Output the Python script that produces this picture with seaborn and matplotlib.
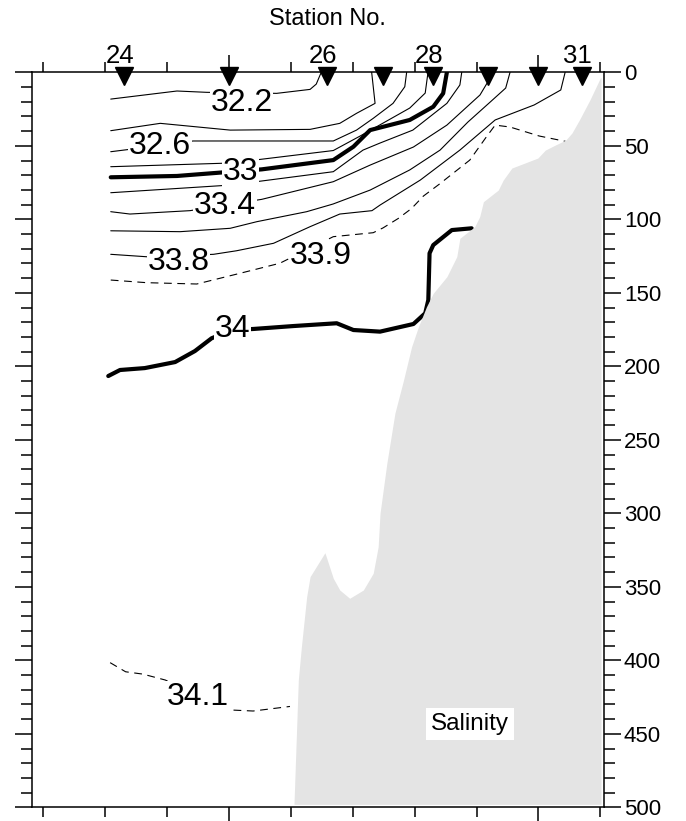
import numpy as np
import matplotlib
matplotlib.use('Agg')
import matplotlib.pyplot as plt
from matplotlib.transforms import ScaledTranslation
import seaborn as sns

sns.set_theme(style="ticks")
plt.rcParams['font.family'] = ['Liberation Sans', 'DejaVu Sans']
plt.rcParams['text.color'] = 'black'
plt.rcParams['xtick.labelcolor'] = 'black'
plt.rcParams['ytick.labelcolor'] = 'black'

# section geometry: distance (km) along the line, depth (m)
dist_lim = (18.13, 110.53)
depth_lim = (500, 0)

station_no = [24, 25, 26, 27, 28, 29, 30, 31]
station_x = [33.0, 50.0, 65.9, 74.9, 83.0, 91.9, 100.0, 107.0]
labelled = [24, 26, 28, 31]

# bottom topography
bottom_x = [110.0, 108.3, 106.6, 105.4, 104.4, 102.7, 101.1, 99.9, 97.8, 95.7, 94.3, 93.5,
            91.1, 90.5, 89.7, 87.3, 86.8, 85.2, 83.0, 81.9, 80.6, 79.5, 78.2, 76.8, 75.5,
            74.4, 74.1, 73.3, 71.7, 69.5, 67.9, 66.85, 65.5, 63.1, 62.55, 61.7, 61.2, 60.5]
bottom_d = [3.7, 18.8, 32.4, 41.3, 46.1, 49.5, 52.9, 58.3, 61.7, 65.1, 73.3, 80.1,
            88.0, 98.2, 105.0, 112.9, 125.4, 139.0, 150.3, 159.5, 173.1, 186.7, 209.3, 232.0, 266.0,
            300.0, 322.7, 340.8, 352.2, 357.8, 352.2, 344.2, 326.8, 343.1, 356.7, 390.7, 413.4, 498.0]
bottom_right = 110.1

# salinity contours (distance, depth)
s322_x = [30.9, 41.6, 46.4, 57.7, 63.1, 64.1, 64.9]
s322_d = [18.2, 12.7, 13.6, 14.3, 11.6, 8.0, 0.0]
s324_x = [30.9, 38.9, 50.2, 63.1, 67.9, 70.6, 73.6, 73.05]
s324_d = [39.7, 34.7, 39.3, 38.8, 34.7, 27.9, 21.1, 0.0]
s326_x = [30.9, 38.9, 44.2, 66.85, 70.6, 73.3, 76.5, 78.4, 78.7]
s326_d = [54.0, 49.8, 46.7, 46.7, 39.3, 31.3, 21.1, 9.8, 0.0]
s328_x = [30.9, 50.2, 66.85, 71.2, 75.2, 79.2, 81.7, 82.15]
s328_d = [64.2, 61.7, 53.2, 43.3, 33.8, 24.3, 14.1, 0.0]
s330_x = [30.9, 41.6, 55.3, 66.85, 70.1, 72.8, 79.2, 83.0, 84.6, 85.2]
s330_d = [71.4, 70.5, 66.0, 59.7, 50.6, 39.3, 32.4, 23.4, 14.3, 0.0]
s332_x = [30.9, 50.2, 66.85, 71.65, 74.4, 79.7, 85.2, 87.3, 87.6]
s332_d = [81.9, 76.7, 67.6, 52.9, 48.1, 39.3, 21.1, 8.6, 0.0]
s334_x = [30.9, 34.0, 43.7, 55.3, 66.85, 72.8, 79.8, 85.2, 90.55, 91.8, 91.9]
s334_d = [94.8, 96.4, 94.1, 86.4, 74.4, 63.1, 50.8, 35.9, 15.4, 6.6, 0.0]
s336_x = [30.9, 42.1, 50.2, 54.5, 62.55, 66.8, 72.8, 79.2, 84.1, 88.6, 92.2, 94.7, 95.4]
s336_d = [107.8, 108.4, 106.1, 101.6, 94.8, 89.6, 80.1, 66.4, 52.9, 33.8, 20.2, 10.7, 0.0]
s338_x = [30.9, 37.2, 47.5, 51.2, 57.2, 63.1, 67.9, 73.1, 74.4, 80.9, 87.3, 93.0, 99.3, 103.6, 104.3]
s338_d = [123.8, 125.6, 123.8, 121.4, 116.3, 105.0, 96.4, 94.1, 90.3, 73.3, 52.9, 32.4, 22.2, 12.0, 0.0]
s339_x = [30.9, 36.7, 44.8, 51.8, 58.2, 66.85, 73.3, 74.9, 77.35, 79.5, 81.4, 84.0, 88.9, 91.6,
          93.0, 95.4, 100.1, 104.4]
s339_d = [141.3, 143.1, 144.0, 136.7, 129.9, 111.8, 109.1, 105.8, 99.4, 92.6, 84.2, 76.0, 59.7, 43.8,
          35.9, 37.2, 43.3, 47.0]
s340_x = [30.5, 32.4, 36.4, 41.3, 44.5, 47.2, 50.6, 53.9, 60.4, 67.4, 70.1, 74.4, 79.8, 81.7,
          82.2, 82.4, 83.0, 86.0, 89.2]
s340_d = [206.6, 202.5, 201.2, 197.1, 189.6, 180.9, 175.3, 174.6, 172.6, 170.7, 175.3, 176.4, 171.2, 163.9,
          154.9, 123.1, 117.5, 107.3, 106.1]
s341_x = [30.8, 33.3, 36.1, 39.7, 45.0, 50.3, 53.9, 59.85]
s341_d = [401.6, 407.8, 409.4, 413.4, 423.6, 433.8, 434.5, 431.4]

label_text = ['32.2', '32.6', '33', '33.4', '33.8', '33.9', '34', '34.1']
label_x = [52.05, 38.85, 51.86, 49.35, 41.84, 64.86, 50.57, 44.99]
label_d = [21.1, 49.8, 67.5, 90.6, 128.7, 125.0, 174.3, 425.0]

thin = [(s322_x, s322_d), (s324_x, s324_d), (s326_x, s326_d), (s328_x, s328_d),
        (s332_x, s332_d), (s334_x, s334_d), (s336_x, s336_d), (s338_x, s338_d)]
bold = [(s330_x, s330_d), (s340_x, s340_d)]
dashed = [(s339_x, s339_d), (s341_x, s341_d)]

fig = plt.figure(figsize=(6.86, 8.21), dpi=100)
ax = fig.add_axes([0.0462, 0.01669, 0.8338, 0.8952])

for xs, ds in thin:
    sns.lineplot(x=xs, y=ds, sort=False, estimator=None, color='black', lw=0.8, ax=ax, zorder=2)
for xs, ds in bold:
    sns.lineplot(x=xs, y=ds, sort=False, estimator=None, color='black', lw=3.0, ax=ax, zorder=2)
for xs, ds in dashed:
    sns.lineplot(x=xs, y=ds, sort=False, estimator=None, color='black', lw=0.8,
                 linestyle=(0, (7, 5)), ax=ax, zorder=2)

ax.fill_betweenx(bottom_d, bottom_x, bottom_right, color='#e4e4e4', lw=0, zorder=3)

for t, x, d in zip(label_text, label_x, label_d):
    ax.text(x, d, t, ha='center', va='center', fontsize=23, zorder=4,
            bbox=dict(facecolor='white', edgecolor='none', pad=0.5))

ax.text(88.9, 443.3, 'Salinity', ha='center', va='center', fontsize=17.5, zorder=5,
        bbox=dict(facecolor='white', edgecolor='none', pad=3.5))

# station markers on the top frame
shift = ax.transData + ScaledTranslation(0, -2.5 / 72, fig.dpi_scale_trans)
ax.plot(station_x, [0] * len(station_x), marker='v', ms=13, color='black', ls='none',
        clip_on=False, transform=shift, zorder=6)
for no, x in zip(station_no, station_x):
    if no in labelled:
        ax.annotate(str(no), (x, 0), xytext=(-3, 3), textcoords='offset points',
                    ha='center', va='bottom', fontsize=18.5, annotation_clip=False)

fig.text(0.4767, 0.9769, 'Station No.', ha='center', va='center', fontsize=17)

ax.set_xlim(*dist_lim)
ax.set_ylim(*depth_lim)
ax.set_xlabel('')
ax.set_ylabel('')
ax.set_xticks([50, 100])
ax.set_xticks(np.arange(20, 111, 10), minor=True)
ax.set_yticks(np.arange(0, 501, 50))
ax.set_yticks(np.arange(0, 501, 10), minor=True)
ax.tick_params(axis='x', which='both', top=True, bottom=True, labelbottom=False,
               labeltop=False, direction='out', width=1.1, color='black')
ax.tick_params(axis='x', which='major', length=12.2)
ax.tick_params(axis='x', which='minor', length=7.2)
ax.tick_params(axis='y', which='both', left=True, right=True, labelleft=False,
               labelright=True, direction='out', width=1.1, color='black')
ax.tick_params(axis='y', which='major', length=12.5, labelsize=16, pad=2)
ax.tick_params(axis='y', which='minor', length=7.9)
for s in ax.spines.values():
    s.set_linewidth(1.1)
    s.set_color('black')

fig.savefig('out.png', dpi=100)
